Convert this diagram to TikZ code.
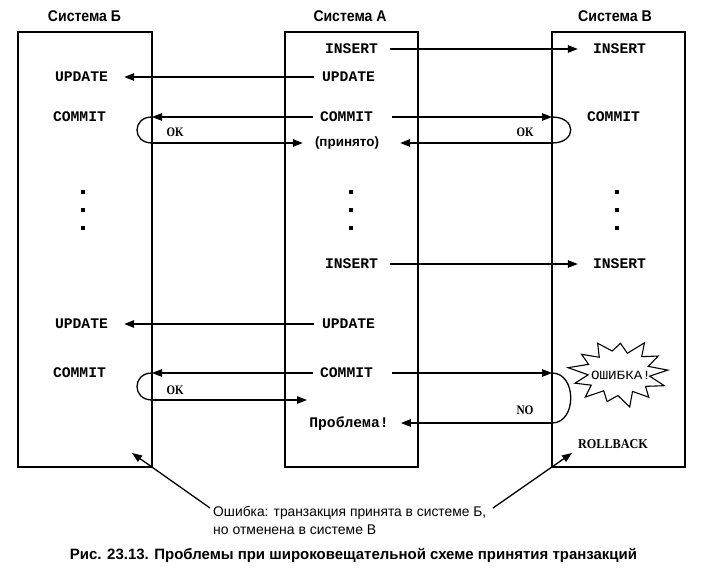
\documentclass[tikz,border=0pt]{standalone}
\usepackage{fontspec}
\usepackage{graphicx}
\setmainfont{Liberation Serif}
\newfontfamily\monof{Liberation Mono}
\newfontfamily\sansf{Liberation Sans}
\usetikzlibrary{arrows.meta,calc}
\newcommand\fitw[2]{\resizebox{#1}{\height}{#2}}
\begin{document}
\begin{tikzpicture}[x=1pt,y=-1pt,
  box/.style={draw, line width=1.3pt, inner sep=0pt, minimum height=435pt},
  ln/.style={line width=1.3pt},
  arr/.style={line width=1.3pt,-{Triangle[length=10pt,width=7.5pt]}},
  mono/.style={font=\monof\bfseries\fontsize{14.7}{16}\selectfont, inner sep=0pt, text height=8.5pt, text depth=0pt},
  ttl/.style={font=\sansf\bfseries\fontsize{15.5}{17}\selectfont, inner sep=0pt},
  lbl/.style={font=\bfseries\fontsize{13}{15}\selectfont, inner sep=0pt, text height=8.5pt, text depth=0pt},
  note/.style={font=\sansf\fontsize{14}{16}\selectfont, inner sep=0pt, anchor=west},
  dotm/.style={fill=black, minimum size=4pt, inner sep=0pt, rectangle}
]
\useasboundingbox (0,0) rectangle (727,572);

% systems
\node[box, minimum width=134pt] (boxB) at (85,249.5) {};
\node[box, minimum width=133pt] (boxA) at (351.5,249.5) {};
\node[box, minimum width=133pt] (boxV) at (618.5,249.5) {};

\node[ttl] (tB) at (84.5,16) {\fitw{73pt}{Система Б}};
\node[ttl] (tA) at (350,16) {\fitw{73pt}{Система А}};
\node[ttl] (tV) at (615,16) {\fitw{74pt}{Система В}};

% system A texts
\node[mono] (insA1) at (351.5,49) {INSERT};
\node[mono] (updA1) at (348.5,77) {UPDATE};
\node[mono] (comA1) at (346.5,117) {COMMIT};
\node[font=\sansf\bfseries\fontsize{13.5}{15}\selectfont, inner sep=0pt, text height=9.5pt, text depth=3pt] (prin) at (347,143) {\fitw{64pt}{(принято)}};
\node[mono] (insA2) at (351.5,264) {INSERT};
\node[mono] (updA2) at (348.5,324) {UPDATE};
\node[mono] (comA2) at (346.5,373) {COMMIT};
\node[mono] (probA) at (349,423) {Проблема!};

% system B texts
\node[mono] (updB1) at (81.5,77) {UPDATE};
\node[mono] (comB1) at (79.5,117) {COMMIT};
\node[mono] (updB2) at (81.5,324) {UPDATE};
\node[mono] (comB2) at (79.5,373) {COMMIT};

% system V texts
\node[mono] (insV1) at (619.5,49) {INSERT};
\node[mono] (comV1) at (613.5,117) {COMMIT};
\node[mono] (insV2) at (619.5,264) {INSERT};
\node[font=\bfseries\fontsize{13.5}{15}\selectfont, inner sep=0pt] (rollV) at (613,444) {\fitw{70pt}{ROLLBACK}};

% dots
\foreach \x/\n in {83/B,351/A,617/V}{
  \node[dotm] (d\n1) at (\x,192) {};
  \node[dotm] (d\n2) at (\x,210) {};
  \node[dotm] (d\n3) at (\x,228) {};
}

% loop coordinates
\coordinate (l1a) at (152,117); \coordinate (l1b) at (152,143);
\coordinate (r1a) at (552,117); \coordinate (r1b) at (552,143);
\coordinate (l2a) at (152,373); \coordinate (l2b) at (152,400);
\coordinate (r2a) at (552,373); \coordinate (r2b) at (552,423);
\coordinate (okend) at (307,400);

% first transaction
\draw[arr, shorten <=12pt, shorten >=15pt] (insA1) -- (insV1);
\draw[arr, shorten <=8pt, shorten >=16pt] (updA1) -- (updB1);
\draw[arr, shorten <=7pt] (comA1) -- (l1a);
\draw[ln] (l1a) .. controls (132,117) and (132,143) .. (l1b);
\draw[arr, shorten >=12pt] (l1b) -- (l1b -| prin.west);
\draw[arr, shorten <=19pt] (comA1) -- (r1a);
\draw[ln] (r1a) .. controls (577,117) and (577,143) .. (r1b);
\draw[arr, shorten >=21pt] (r1b) -- (r1b -| prin.east);
\node[lbl] (ok1) at (175,132) {\fitw{17pt}{OK}};
\node[lbl] (ok2) at (525,132) {\fitw{17pt}{OK}};

% second transaction
\draw[arr, shorten <=12pt, shorten >=15pt] (insA2) -- (insV2);
\draw[arr, shorten <=8pt, shorten >=16pt] (updA2) -- (updB2);
\draw[arr, shorten <=7pt] (comA2) -- (l2a);
\draw[ln] (l2a) .. controls (132,373) and (132,400) .. (l2b);
\draw[arr] (l2b) -- (okend);
\draw[arr, shorten <=19pt] (comA2) -- (r2a);
\draw[ln] (r2a) .. controls (577,373) and (577,423) .. (r2b);
\draw[arr, shorten >=12pt] (r2b) -- (r2b -| probA.east);
\node[lbl] (ok3) at (175,390) {\fitw{17pt}{OK}};
\node[lbl] (no1) at (525,410) {\fitw{17pt}{NO}};

% error burst
\node[font=\monof\fontsize{12.5}{14}\selectfont, inner sep=0pt] (err) at (621,375) {\fitw{60pt}{ОШИБКА!}};
\coordinate (bc) at (619,373);
\draw[line width=1.1pt, line join=miter] ($(bc)+(5:49pt and 33pt)$)
  \foreach \a/\rx/\ry in {
    18.85/31/20.5, 32.7/46.5/31.4, 46.55/33/22.5, 60.4/51.5/34.7, 74.25/31/20.5,
    88.1/44.1/29.7, 101.95/33/22.5, 115.8/49/33, 129.65/31/20.5, 143.5/46.5/31.4,
    157.35/33/22.5, 171.2/51.5/34.7, 185.05/31/20.5, 198.9/46.5/31.4, 212.75/33/22.5,
    226.6/49/33, 240.45/31/20.5, 254.3/44.1/29.7, 268.15/33/22.5, 282/51.5/34.7,
    295.85/31/20.5, 309.7/46.5/31.4, 323.55/33/22.5, 337.4/49/33, 351.25/31/20.5}
  { -- ($(bc)+(\a:\rx pt and \ry pt)$) } -- cycle;

% annotation
\node[note] (note1) at (213,513) {\fitw{273pt}{Ошибка: транзакция принята в системе Б,}};
\node[note] (note2) at (213,530) {\fitw{163pt}{но отменена в системе В}};
\coordinate (tailL) at (210,508); \coordinate (tipL) at (132,453);
\coordinate (tailR) at (493,508); \coordinate (tipR) at (572,453);
\draw[arr] (tailL) -- (tipL);
\draw[arr] (tailR) -- (tipR);

% caption
\node[font=\sansf\bfseries\fontsize{15}{17}\selectfont, inner sep=0pt] (cap) at (353.5,555) {\fitw{567pt}{Рис. 23.13. Проблемы при широковещательной схеме принятия транзакций}};
\end{tikzpicture}
\end{document}
